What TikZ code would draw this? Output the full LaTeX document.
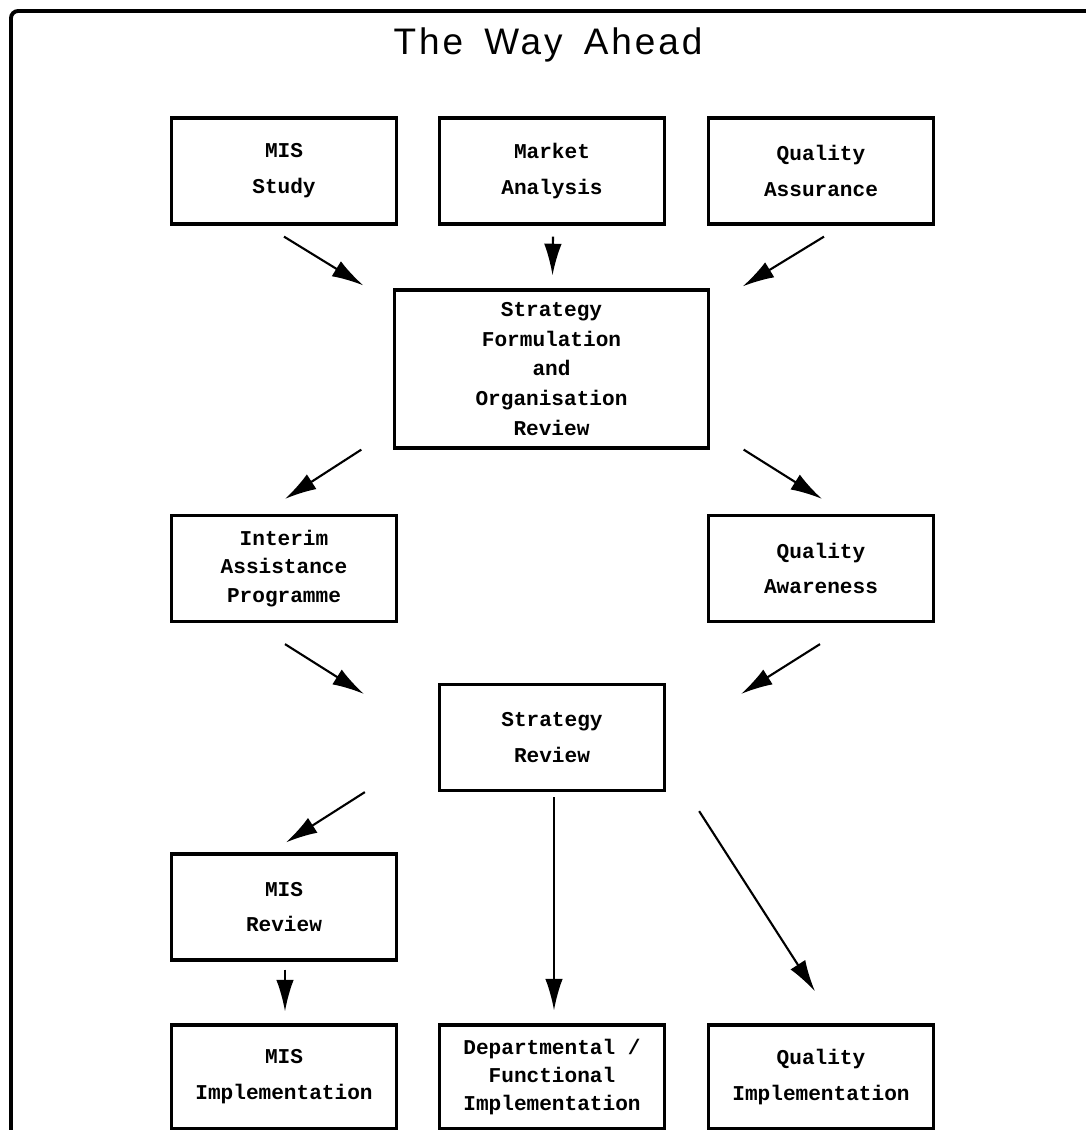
\documentclass[tikz,border=0pt]{standalone}
\usepackage{fontspec}
\setmonofont{Liberation Mono}
\newfontfamily\titlefont[LetterSpace=8,WordSpace=1.6]{Liberation Sans}
\usetikzlibrary{arrows.meta,calc}

\begin{document}
\begin{tikzpicture}[x=0.01cm, y=-0.01cm, >={Latex[length=9pt,width=5pt]},
    box/.style={draw, line width=0.9pt, minimum width=2.25cm, minimum height=1.06cm,
        inner sep=0pt, align=center, font=\ttfamily\bfseries\fontsize{6}{10.2}\selectfont},
    tight/.style={font=\ttfamily\bfseries\fontsize{6}{8}\selectfont},
    link/.style={->, line width=0.6pt}]
\useasboundingbox (0,0) rectangle (1086,1130);
\draw[line width=1.1pt, rounded corners=2pt] (11,1130)--(11,11)--(1086,11);
\node (title) at (548,45) {\titlefont\fontsize{10.5}{12}\selectfont The Way Ahead};

% top row
\node[box] (mis) at (284,171) {MIS\\Study};
\node[box] (market) at (552,171) {Market\\Analysis};
\node[box] (qa) at (821,171) {Quality\\Assurance};
\node[box, minimum width=3.13cm, minimum height=1.58cm,
    font=\ttfamily\bfseries\fontsize{6}{8.5}\selectfont] (sf) at (551.5,369)
    {Strategy\\Formulation\\and\\Organisation\\Review};
% middle
\node[box, tight] (interim) at (284,568.5) {Interim\\Assistance\\Programme};
\node[box] (qaw) at (821,568.5) {Quality\\Awareness};
\node[box] (sr) at (552,737.5) {Strategy\\Review};
\node[box] (misrev) at (284,907) {MIS\\Review};
% bottom row
\node[box, minimum height=1.04cm] (misimpl) at (284,1077) {MIS\\Implementation};
\node[box, tight, minimum height=1.04cm] (dept) at (552,1077) {Departmental /\\Functional\\Implementation};
\node[box, minimum height=1.04cm] (qimpl) at (821,1077) {Quality\\Implementation};

\draw[link] ($(mis.south)+(0,11)$) -- ($(sf.north west)+(-30,-3)$);
\draw[link] ($(market.south)+(1,11)$) -- ($(sf.north)+(1,-13)$);
\draw[link] ($(qa.south)+(3,11)$) -- ($(sf.north east)+(33,-2)$);
\draw[link] ($(sf.south west)+(-32,0)$) -- ($(interim.north)+(1,-15)$);
\draw[link] ($(sf.south east)+(34,0)$) -- ($(qaw.north)+(1,-15)$);
\draw[link] ($(interim.south)+(1,21)$) -- ($(sr.north west)+(-74,11)$);
\draw[link] ($(qaw.south)+(-1,21)$) -- ($(sr.north east)+(75,11)$);
\draw[link] ($(sr.south west)+(-73,0)$) -- ($(misrev.north)+(2,-10)$);
\draw[link] ($(sr.south)+(2,5)$) -- ($(dept.north)+(2,-13)$);
\draw[link] ($(sr.south east)+(33,19)$) -- ($(qimpl.north)+(-6,-32)$);
\draw[link] ($(misrev.south)+(1,8)$) -- ($(misimpl.north)+(1,-12)$);
\end{tikzpicture}
\end{document}
